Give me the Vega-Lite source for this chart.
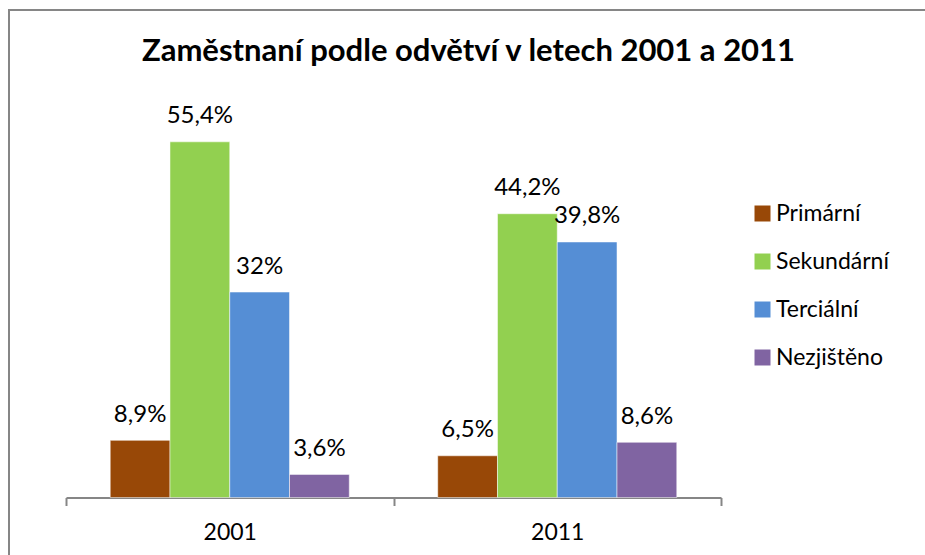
{
  "$schema": "https://vega.github.io/schema/vega-lite/v6.json",
  "autosize": {"type": "none"},
  "padding": {"left": 9, "top": 10, "right": -3, "bottom": -3},
  "width": 919,
  "height": 548,
  "background": "white",
  "title": {
    "text": "Zaměstnaní podle odvětví v letech 2001 a 2011",
    "font": "Lato",
    "fontSize": 31,
    "fontWeight": "bold",
    "color": "#000000",
    "anchor": "middle",
    "baseline": "alphabetic",
    "offset": -82
  },
  "data": {
    "values": [
      {"rok": "2001", "odvetvi": "Primární", "podil": 8.9, "popisek": "8,9%"},
      {"rok": "2001", "odvetvi": "Sekundární", "podil": 55.4, "popisek": "55,4%"},
      {"rok": "2001", "odvetvi": "Terciální", "podil": 32, "popisek": "32%"},
      {"rok": "2001", "odvetvi": "Nezjištěno", "podil": 3.6, "popisek": "3,6%"},
      {"rok": "2011", "odvetvi": "Primární", "podil": 6.5, "popisek": "6,5%"},
      {"rok": "2011", "odvetvi": "Sekundární", "podil": 44.2, "popisek": "44,2%"},
      {"rok": "2011", "odvetvi": "Terciální", "podil": 39.8, "popisek": "39,8%"},
      {"rok": "2011", "odvetvi": "Nezjištěno", "podil": 8.6, "popisek": "8,6%"}
    ]
  },
  "encoding": {
    "x": {
      "field": "rok",
      "type": "nominal",
      "title": null,
      "scale": {"range": [57, 712], "paddingInner": 0, "paddingOuter": 0},
      "axis": {
        "orient": "bottom",
        "offset": -60.5,
        "tickBand": "extent",
        "domainColor": "#868686",
        "domainWidth": 2,
        "tickColor": "#868686",
        "tickWidth": 2,
        "tickSize": 8,
        "labelAngle": 0,
        "labelFont": "Lato",
        "labelFontSize": 23,
        "labelColor": "#000000",
        "labelPadding": 16,
        "labelBaseline": "top",
        "grid": false
      }
    },
    "xOffset": {
      "field": "odvetvi",
      "type": "nominal",
      "sort": ["Primární", "Sekundární", "Terciální", "Nezjištěno"],
      "scale": {"paddingInner": 0, "paddingOuter": 0.74}
    },
    "y": {
      "field": "podil",
      "type": "quantitative",
      "scale": {"domain": [-9.42, 75.93], "nice": false, "zero": false},
      "axis": null
    }
  },
  "layer": [
    {
      "mark": {"type": "bar", "stroke": "#ffffff", "strokeOpacity": 0.5, "strokeWidth": 1},
      "encoding": {
        "y2": {"datum": 0},
        "color": {
          "field": "odvetvi",
          "type": "nominal",
          "sort": ["Primární", "Sekundární", "Terciální", "Nezjištěno"],
          "scale": {
            "domain": ["Primární", "Sekundární", "Terciální", "Nezjištěno"],
            "range": ["#984807", "#92D050", "#558ED5", "#8064A2"]
          },
          "legend": {
            "title": null,
            "orient": "none",
            "legendX": 742,
            "legendY": 192,
            "padding": 0,
            "symbolType": "square",
            "symbolSize": 256,
            "symbolStrokeWidth": 0,
            "labelFont": "Lato",
            "labelFontSize": 23,
            "labelColor": "#000000",
            "labelOffset": 2,
            "rowPadding": 24
          }
        }
      }
    },
    {
      "mark": {"type": "text", "font": "Lato", "fontSize": 24, "color": "#000000", "baseline": "alphabetic", "dy": -18.5},
      "encoding": {
        "text": {"field": "popisek"}
      }
    }
  ],
  "config": {
    "view": {"stroke": "#868686", "strokeWidth": 2}
  }
}
